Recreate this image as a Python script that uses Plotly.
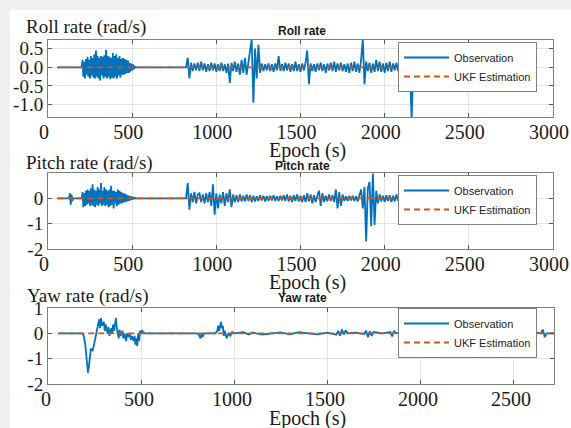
import plotly.graph_objects as go

W, H = 571, 428

# ---------------- data ----------------
x_ticks_12 = [0, 500, 1000, 1500, 2000, 2500, 3000]
x_ticks_3 = [0, 500, 1000, 1500, 2000, 2500]
roll_yticks = [0.5, 0.0, -0.5, -1.0]
roll_ytext = ["0.5", "0.0", "-0.5", "-1.0"]
rate_yticks = [1, 0, -1, -2]
pitch_ytext = ["", "0", "-1", "-2"]
yaw_ytext = ["1", "0", "-1", "-2"]

step_fine = 5
step = 10

# Roll rate observation
roll_pre_epoch = [55, 200]
roll_pre_obs = [0.0, 0.0]
roll_b1_start = 200
roll_b1_obs = [0.0, 0.2, -0.25, 0.15, -0.3, 0.22, -0.2, 0.28, -0.25, 0.2,
               -0.3, 0.3, -0.22, 0.25, -0.28, 0.35, -0.3, 0.45, -0.25, 0.3,
               -0.3, 0.25, -0.35, 0.3, -0.22, 0.28, -0.3, 0.32, -0.25, 0.47,
               -0.3, 0.3, -0.25, 0.28, -0.32, 0.25, -0.28, 0.38, -0.3, 0.3,
               -0.25, 0.35, -0.3, 0.25, -0.22, 0.3, -0.28, 0.22, -0.2, 0.25,
               -0.2, 0.22, -0.18, 0.2, -0.15, 0.18, -0.15, 0.12, -0.12, 0.1,
               -0.08, 0.08, -0.05, 0.03, 0.0]
roll_b2_start = 820
roll_b2_obs = [0.0, 0.25, -0.3, 0.12, -0.1, 0.1, -0.08, 0.12, -0.1, 0.15,
               -0.08, 0.1, -0.12, 0.08, -0.1, 0.12, -0.08, 0.1, -0.12, 0.08,
               -0.1, 0.12, -0.1, 0.08, -0.15, 0.1, -0.42, 0.12, -0.1, 0.15,
               -0.12, 0.1, -0.2, 0.2, -0.15, 0.25, -0.2, 0.15, 0.45, 0.75,
               -0.95, 0.5, -0.3, 0.6, -0.15, 0.1, -0.1, 0.08, -0.08, 0.1,
               -0.1, 0.08, -0.12, 0.1, -0.08, 0.3, -0.1, 0.08, -0.1, 0.12,
               -0.08, 0.1, -0.12, 0.08, -0.1, 0.15, -0.1, 0.08, -0.12, 0.1,
               -0.08, 0.12, 0.45, -0.45, 0.1, -0.1, 0.08, -0.12, 0.1, -0.08,
               0.12, -0.1, 0.08, -0.15, 0.1, -0.08, 0.12, -0.1, 0.15, -0.12,
               0.1, -0.08, 0.12, -0.1, 0.08, -0.12, 0.1, -0.15, 0.12, -0.1,
               0.15, -0.12, 0.1, -0.15, 0.2, 0.75, -0.45, 0.15, -0.1, 0.12,
               -0.15, 0.1, -0.12, 0.2, -0.1, 0.15, -0.12, 0.1, -0.15, 0.12,
               -0.1, 0.15, -0.12, 0.1, -0.08, 0.12, -0.1, 0.08, -0.1, 0.05,
               -0.05, 0.05, -0.1, 0.0, -1.4, 0.0, 0.05, -0.05, 0.03, -0.03,
               0.03, -0.05, 0.03, -0.03, 0.05, -0.03, 0.03, -0.05, 0.03, -0.03,
               0.03, -0.05, 0.03, -0.03, 0.05, -0.05, 0.03, -0.1, 0.05, -0.42,
               0.05, -0.1, -0.4, 0.05, -0.1, -0.45, 0.05, -0.05, 0.03, -0.05,
               0.03, -0.05, 0.03, -0.05, 0.03, -0.05, 0.03, -0.05, -0.38, 0.05,
               -0.05, -0.42, 0.03, -0.05, 0.03, -0.03, 0.03, -0.03, 0.0]

# Pitch rate observation
pitch_pre_epoch = [55, 125, 130, 135, 140, 145, 150, 200]
pitch_pre_obs = [0.0, 0.0, 0.2, -0.25, 0.15, -0.1, 0.0, 0.0]
pitch_b1_start = 200
pitch_b1_obs = [0.0, 0.25, -0.35, 0.2, -0.3, 0.3, -0.25, 0.35, -0.2, 0.3,
                -0.3, 0.4, -0.25, 0.55, -0.3, 0.35, -0.35, 0.3, -0.25, 0.45,
                -0.3, 0.35, -0.2, 0.6, -0.3, 0.3, -0.25, 0.45, -0.3, 0.35,
                -0.25, 0.3, -0.35, 0.35, -0.3, 0.5, -0.25, 0.3, -0.4, 0.3,
                -0.2, 0.25, -0.3, 0.35, -0.25, 0.3, -0.2, 0.25, -0.2, 0.2,
                -0.15, 0.2, -0.15, 0.15, -0.12, 0.12, -0.1, 0.1, -0.08, 0.08,
                -0.05, 0.05, -0.03, 0.02, 0.0]
pitch_b2_start = 820
pitch_b2_obs = [0.0, 0.6, -0.45, 0.2, -0.15, 0.25, -0.2, 0.15, 0.2, -0.15,
                0.15, -0.2, 0.2, -0.15, 0.25, -0.3, 0.55, -0.65, 0.2, -0.4,
                0.15, -0.2, 0.25, -0.3, 0.2, -0.15, 0.35, -0.35, 0.15, -0.15,
                0.12, -0.15, 0.15, -0.12, 0.1, -0.12, 0.15, -0.1, 0.12, -0.15,
                0.1, -0.12, 0.08, -0.1, 0.12, -0.08, 0.1, -0.12, 0.08, -0.1,
                0.1, -0.08, 0.12, -0.1, 0.08, -0.1, 0.1, -0.08, 0.12, -0.1,
                0.15, -0.12, 0.1, -0.15, 0.12, -0.1, 0.15, -0.12, 0.1, -0.15,
                0.12, -0.15, 0.2, -0.12, 0.15, -0.2, 0.12, -0.15, 0.1, 0.3,
                -0.3, 0.2, -0.15, 0.1, -0.12, 0.15, -0.1, 0.12, -0.15, 0.35,
                -0.4, 0.25, -0.3, 0.15, -0.1, 0.08, -0.1, 0.1, -0.08, 0.1,
                -0.1, 0.08, -0.12, 0.1, 0.35, -0.4, 0.45, -1.7, 0.4, 0.65,
                -1.1, 0.98, -1.05, 0.3, -0.2, 0.15, -0.12, 0.1, -0.15, 0.12,
                -0.1, 0.12, -0.15, 0.1, -0.12, 0.15, -0.1, 0.12, -0.1, 0.08,
                -0.05, 0.05, -0.08, 0.05, -0.05, 0.05, -0.05, 0.03, -0.05, 0.03,
                -0.03, 0.05, -0.03, 0.03, -0.05, 0.03, -0.03, 0.05, -0.03, 0.03,
                -0.03, 0.05, -0.03, 0.03, -0.05, 0.03, -0.03, 0.05, -0.03, 0.03,
                -0.03, 0.05, -0.03, 0.03, -0.05, 0.03, -0.03, 0.05, -0.03, 0.03,
                -0.03, 0.05, -0.03, 0.03, -0.05, 0.03, -0.03, 0.05, -0.03, 0.03,
                -0.03, 0.03, -0.03, 0.03, -0.03, 0.03, -0.03, 0.03, 0.0]

# Yaw rate observation
yaw_epoch = [55, 180, 190, 200, 210, 215, 220, 230, 240, 250, 260, 270, 275, 280, 285,
             290, 300, 305, 310, 320, 325, 330, 340, 345, 350, 355, 360, 365, 370, 375,
             380, 385, 390, 400, 405, 410, 420, 425, 430, 440, 445, 450, 460, 465, 470,
             475, 480, 485, 490, 495, 500, 505, 510, 520,
             800, 810, 820, 825, 830, 840, 900, 910, 915, 920, 930, 935, 940, 945, 950,
             960, 970, 980, 990, 1000, 1050, 1080, 1100, 1150, 1200, 1250, 1300, 1350,
             1400, 1450, 1500, 1550, 1560, 1570, 1580, 1590, 1600, 1610, 1650, 1700,
             1710, 1720, 1730, 1740, 1750, 1800, 1840, 1850, 1860, 1870, 1900, 2000,
             2100, 2200, 2300, 2400, 2415, 2420, 2425, 2450, 2500, 2540, 2548, 2556,
             2600, 2650, 2660, 2670, 2680, 2720]
yaw_obs = [0.0, 0.0, -0.05, -0.4, -1.2, -1.55, -1.3, -0.6, -0.7, -0.3, 0.1, 0.35, 0.55, 0.2, 0.6,
           0.3, 0.45, 0.1, 0.35, 0.0, 0.25, -0.1, 0.2, 0.0, 0.35, 0.1, 0.4, 0.6, 0.2, 0.0,
           -0.2, 0.15, -0.1, 0.1, -0.2, 0.0, -0.3, 0.0, -0.15, 0.0, -0.25, -0.1, -0.3, -0.1, -0.45,
           -0.2, -0.5, 0.0, -0.3, 0.1, 0.0, 0.12, 0.05, 0.0,
           0.0, -0.05, -0.2, 0.0, -0.15, 0.0, 0.0, 0.1, 0.3, 0.1, 0.45, 0.2, 0.3, -0.1, 0.1,
           -0.2, 0.0, -0.1, 0.05, 0.0, 0.05, -0.05, 0.03, -0.05, 0.0, 0.04, -0.04, 0.05,
           0.0, -0.04, 0.03, -0.05, 0.1, -0.1, 0.15, -0.05, 0.12, 0.0, 0.03, -0.03,
           0.1, -0.15, 0.08, -0.1, 0.05, 0.0, 0.05, -0.12, 0.1, 0.0, 0.05, -0.05,
           0.05, -0.05, 0.05, 0.0, 0.0, 1.0, 0.0, 0.05, -0.05, 0.0, -0.6, 0.0,
           0.05, 0.0, 0.15, -0.15, 0.0, 0.0]

# UKF estimation (essentially zero)
ukf12_epoch = [55, 1000, 2000, 2700]
ukf12_est = [0.0, 0.0, 0.0, 0.0]
ukf3_epoch = [55, 1000, 2000, 2720]
ukf3_est = [0.0, 0.0, 0.0, 0.0]


def build(pre_e, pre_v, s1, v1, s2, v2):
    e = (list(pre_e) + [s1 + step_fine * i for i in range(len(v1))]
         + [s2 + step * i for i in range(len(v2))])
    v = list(pre_v) + list(v1) + list(v2)
    return e, v


roll_e, roll_v = build(roll_pre_epoch, roll_pre_obs, roll_b1_start, roll_b1_obs, roll_b2_start, roll_b2_obs)
pitch_e, pitch_v = build(pitch_pre_epoch, pitch_pre_obs, pitch_b1_start, pitch_b1_obs, pitch_b2_start, pitch_b2_obs)

# ---------------- figure ----------------
BLUE = "#0072BD"
ORANGE = "#D95319"
SERIF = "Liberation Serif"
SANS = "Liberation Sans"


def px(x):
    return x / W


def py(y):
    return 1 - y / H


fig = go.Figure()

panels = [
    (roll_e, roll_v, ukf12_epoch, ukf12_est, "", "legend"),
    (pitch_e, pitch_v, ukf12_epoch, ukf12_est, "2", "legend2"),
    (yaw_epoch, yaw_obs, ukf3_epoch, ukf3_est, "3", "legend3"),
]
for e, v, ue, uv, ax, lg in panels:
    fig.add_trace(go.Scatter(x=e, y=v, mode="lines", name="Observation",
                             line=dict(color=BLUE, width=1.8),
                             xaxis="x" + ax, yaxis="y" + ax, legend=lg))
    fig.add_trace(go.Scatter(x=ue, y=uv, mode="lines", name="UKF Estimation",
                             line=dict(color=ORANGE, width=1.8, dash="6px,4px"),
                             xaxis="x" + ax, yaxis="y" + ax, legend=lg))

axis_common = dict(showline=True, linecolor="#7f7f7f", linewidth=1, mirror="ticks",
                   ticks="inside", ticklen=4, tickcolor="#555", showgrid=True,
                   gridcolor="#e3e3e3", gridwidth=1, zeroline=False,
                   automargin=False, ticklabeloverflow="allow")
xfont = dict(family=SERIF, size=20, color="#1a1a1a")
yfont = dict(family=SERIF, size=19, color="#1a1a1a")

dom_x12 = [px(48), px(553)]
dom_x3 = [px(48), px(554)]
fig.update_layout(
    xaxis=dict(domain=dom_x12, range=[0, 3000], anchor="y", tickvals=x_ticks_12,
               ticktext=[str(t) for t in x_ticks_12], tickfont=xfont,
               ticklabelstandoff=-3, ticklabelshift=-4, **axis_common),
    yaxis=dict(domain=[py(117), py(40)], range=[-1.33, 0.73], anchor="x",
               tickvals=roll_yticks, ticktext=roll_ytext, tickfont=yfont, **axis_common),
    xaxis2=dict(domain=dom_x12, range=[0, 3000], anchor="y2", tickvals=x_ticks_12,
                ticktext=[str(t) for t in x_ticks_12], tickfont=xfont,
                ticklabelstandoff=-3, ticklabelshift=-4, **axis_common),
    yaxis2=dict(domain=[py(249), py(173)], range=[-2, 1], anchor="x2",
                tickvals=rate_yticks, ticktext=pitch_ytext, tickfont=yfont, **axis_common),
    xaxis3=dict(domain=dom_x3, range=[0, 2720], anchor="y3", tickvals=x_ticks_3,
                ticktext=[str(t) for t in x_ticks_3], tickfont=xfont,
                ticklabelstandoff=-3, ticklabelshift=-2, **axis_common),
    yaxis3=dict(domain=[py(384), py(308)], range=[-2, 1], anchor="x3",
                tickvals=rate_yticks, ticktext=yaw_ytext, tickfont=yfont, **axis_common),
)

legend_common = dict(bgcolor="white", bordercolor="#808080", borderwidth=1,
                     font=dict(family=SANS, size=11, color="#222"),
                     xanchor="left", yanchor="top", tracegroupgap=0,
                     itemwidth=45)
fig.update_layout(
    legend=dict(x=px(398), y=py(42), **legend_common),
    legend2=dict(x=px(398), y=py(175), **legend_common),
    legend3=dict(x=px(398), y=py(308), **legend_common),
)

ann = []
# y-axis titles
for txt, xc, y in [("Roll rate (rad/s)", 86, 27), ("Pitch rate (rad/s)", 90, 163),
                   ("Yaw rate (rad/s)", 88, 296)]:
    ann.append(dict(text=txt, x=px(xc), y=py(y), xref="paper", yref="paper",
                    xanchor="center", yanchor="middle", showarrow=False,
                    font=dict(family=SERIF, size=19, color="#1a1a1a")))
# panel titles
for txt, y in [("Roll rate", 31), ("Pitch rate", 166), ("Yaw rate", 298)]:
    ann.append(dict(text="<b>" + txt + "</b>", x=px(302), y=py(y), xref="paper", yref="paper",
                    xanchor="center", yanchor="middle", showarrow=False,
                    font=dict(family=SANS, size=12, color="#1a1a1a")))
# x-axis titles
for y in [150, 282, 418]:
    ann.append(dict(text="Epoch (s)", x=px(307), y=py(y), xref="paper", yref="paper",
                    xanchor="center", yanchor="middle", showarrow=False,
                    font=dict(family=SERIF, size=20, color="#1a1a1a")))

fig.update_layout(
    annotations=ann,
    shapes=[dict(type="rect", xref="paper", yref="paper", x0=px(10), x1=1.0,
                 y0=0.0, y1=py(10), fillcolor="white", line=dict(width=0), layer="below")],
    width=W, height=H, margin=dict(l=0, r=0, t=0, b=0),
    paper_bgcolor="#f0f0f0", plot_bgcolor="white", showlegend=True,
)

fig.write_html("out.html")
